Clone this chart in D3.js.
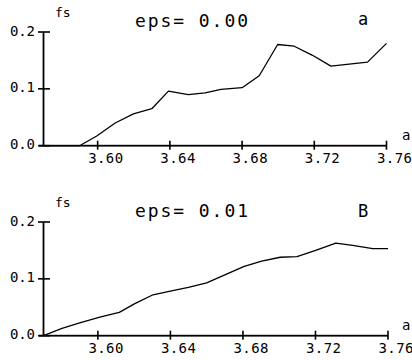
<!DOCTYPE html>
<html><head><meta charset="utf-8">
<script src="https://cdn.jsdelivr.net/npm/d3@7"></script>
<style>body{margin:0;background:#fff}svg{display:block}</style>
</head><body>
<svg id="c" width="412" height="360"></svg>
<script>
// Data
const xTicks = [3.60, 3.64, 3.68, 3.72, 3.76];
const xTickLabels = ["3.60", "3.64", "3.68", "3.72", "3.76"];
const yTicks = [0.0, 0.1, 0.2];
const yTickLabels = ["0.0", "0.1", "0.2"];
const panelTitles = ["eps= 0.00", "eps= 0.01"];
const panelLetters = ["a", "B"];
const aA = [3.570, 3.590, 3.5995, 3.6097, 3.6198, 3.630, 3.6392, 3.6502, 3.6595, 3.6683, 3.680, 3.6895, 3.6997, 3.7089, 3.719, 3.7292, 3.7495, 3.760];
const fsA = [0.0, 0.0, 0.017, 0.040, 0.056, 0.065, 0.096, 0.090, 0.093, 0.099, 0.102, 0.123, 0.178, 0.175, 0.159, 0.140, 0.147, 0.180];
const aB = [3.570, 3.5802, 3.5904, 3.6016, 3.6118, 3.6201, 3.6304, 3.6406, 3.6499, 3.660, 3.670, 3.6807, 3.6903, 3.7006, 3.7098, 3.7201, 3.7312, 3.7405, 3.7516, 3.760];
const fsB = [0.0, 0.013, 0.023, 0.033, 0.041, 0.056, 0.072, 0.079, 0.085, 0.093, 0.107, 0.122, 0.131, 0.138, 0.139, 0.150, 0.163, 0.159, 0.153, 0.153];

const svg = d3.select("#c");
const font = "'DejaVu Sans Mono', monospace";

const panels = [
  {xs: aA, ys: fsA, x0: 43.5, x1: 386.5, yTop: 32, yBot: 145.7, axisEnd: 386.5},
  {xs: aB, ys: fsB, x0: 43.5, x1: 388, yTop: 222, yBot: 335.7, axisEnd: 388}
];

panels.forEach((p, i) => {
  const g = svg.append("g");
  const x = d3.scaleLinear().domain([3.57, 3.76]).range([p.x0, p.x1]);
  const y = d3.scaleLinear().domain([0, 0.2]).range([p.yBot, p.yTop]);

  // axes as rects (robust rendering)
  g.append("rect").attr("x", 39).attr("y", p.yBot - 0.9).attr("width", p.axisEnd - 39).attr("height", 1.8).attr("fill", "#000");
  g.append("rect").attr("x", p.x0 - 0.9).attr("y", p.yTop).attr("width", 1.8).attr("height", p.yBot - p.yTop).attr("fill", "#000");
  g.selectAll("rect.xt").data(xTicks).join("rect").attr("class", "xt")
    .attr("x", d => x(d) - 0.8).attr("y", p.yBot - 5).attr("width", 1.6).attr("height", 9).attr("fill", "#000");
  g.selectAll("rect.yt").data(yTicks).join("rect").attr("class", "yt")
    .attr("x", p.x0 - 5.5).attr("y", d => y(d) - 0.8).attr("width", 12).attr("height", 1.6).attr("fill", "#000");

  // x tick labels (d3 axis, text only)
  const xa = g.append("g").attr("transform", `translate(0,${p.yBot})`)
    .call(d3.axisBottom(x).tickValues(xTicks).tickSize(0).tickFormat((d, k) => xTickLabels[k]));
  xa.select(".domain").remove();
  xa.selectAll(".tick line").remove();
  xa.selectAll(".tick text").attr("y", 17.5).attr("dy", null).attr("x", -10)
    .attr("text-anchor", "start").attr("font-family", font).attr("font-size", 14)
    .attr("textLength", 35).attr("fill", "#000");

  // y tick labels
  const ya = g.append("g").attr("transform", `translate(${p.x0},0)`)
    .call(d3.axisLeft(y).tickValues(yTicks).tickSize(0).tickFormat((d, k) => yTickLabels[k]));
  ya.select(".domain").remove();
  ya.selectAll(".tick line").remove();
  ya.selectAll(".tick text").attr("x", -8.5).attr("dy", null).attr("y", 3)
    .attr("text-anchor", "end").attr("font-family", font).attr("font-size", 14)
    .attr("textLength", 25).attr("fill", "#000");

  // axis labels
  g.append("text").attr("x", 55).attr("y", p.yTop - 15).attr("font-family", font)
    .attr("font-size", 13).attr("fill", "#000").text("fs");
  g.append("text").attr("x", 402).attr("y", p.yBot - 6).attr("font-family", font)
    .attr("font-size", 14).attr("fill", "#000").text("a");

  // title and panel letter
  g.append("text").attr("x", 135).attr("y", p.yTop - 5).attr("font-family", font)
    .attr("font-size", 18).attr("textLength", 113).attr("lengthAdjust", "spacing")
    .attr("fill", "#000").text(panelTitles[i]);
  g.append("text").attr("x", 358).attr("y", p.yTop - 7 + (i ? 2 : 0)).attr("font-family", font)
    .attr("font-size", 17).attr("fill", "#000").text(panelLetters[i]);

  // curve
  const line = d3.line().x((d, k) => x(p.xs[k])).y(d => y(d));
  g.append("path").datum(p.ys).attr("d", line).attr("fill", "none")
    .attr("stroke", "#000").attr("stroke-width", 1.3).attr("stroke-linejoin", "round");
});
</script>
</body></html>
